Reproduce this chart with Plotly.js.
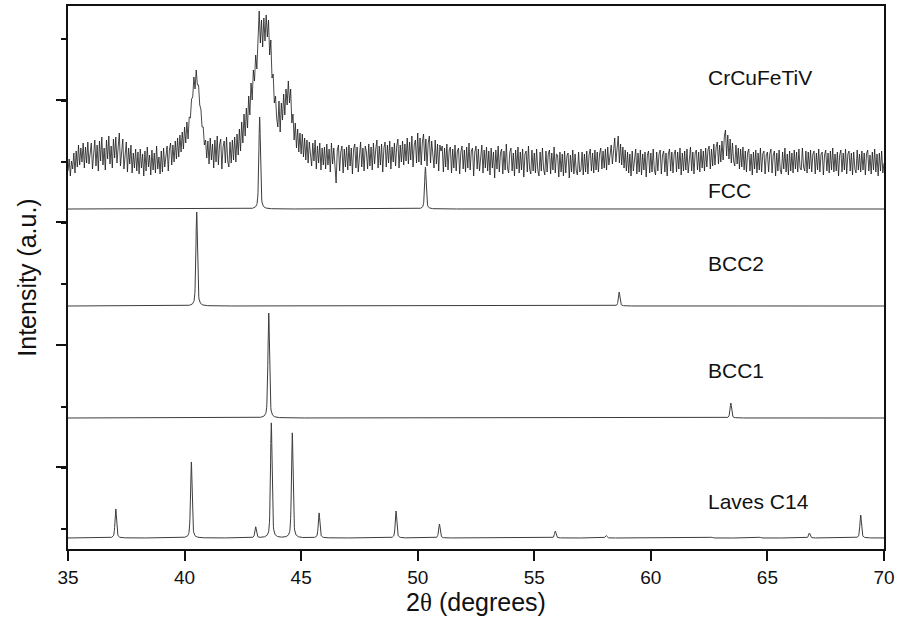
<!DOCTYPE html>
<html>
<head>
<meta charset="utf-8">
<script src="https://cdn.plot.ly/plotly-3.0.1.min.js"></script>
<style>html,body{margin:0;padding:0;background:#fff;}#chart{width:898px;height:623px;}</style>
</head>
<body>
<div id="chart"></div>
<script>
// ---- Measured CrCuFeTiV pattern: 2θ from 35.00 to 70.00 in 0.05° steps (relative intensity, a.u.)
const expStart = 35.0;
const expStep = 0.05;
const expIntensity = [
  -4,8,-9,6,-2,14,-6,16,0,22,2,19,5,24,-1,20,4,25,3,18,
  24,-2,18,27,1,22,-4,26,6,30,2,19,-3,27,8,31,3,21,-1,28,
  9,30,4,23,34,1,20,28,-2,17,25,-5,19,3,22,-6,14,-1,18,-4,
  15,-7,18,-1,13,-9,16,-4,20,0,12,-8,17,-3,14,-6,21,-2,10,-7,
  16,-5,19,0,13,21,-4,17,24,2,22,5,26,8,29,10,32,15,35,18,
  40,24,45,28,50,49,68,70,90,78,97,82,82,62,58,40,40,22,27,9,
  26,3,29,7,23,-1,27,5,31,2,22,28,-2,20,26,4,30,6,0,25,
  4,27,7,30,5,33,12,38,16,45,24,53,31,59,39,71,52,84,67,97,
  86,112,98,128,156,124,147,120,149,126,152,130,147,112,127,89,93,64,71,49,
  40,66,35,64,47,73,52,78,62,86,64,78,44,53,27,44,19,38,15,34,
  13,33,10,29,7,27,4,25,9,1,24,6,27,-2,21,4,24,-3,19,2,
  20,-2,23,2,18,-5,24,3,19,-1,-16,17,22,-4,15,21,-6,18,0,20,
  -3,22,1,19,-7,18,23,-1,20,-5,14,25,0,19,-4,21,15,-2,23,1,
  20,-3,24,3,18,27,-1,21,2,23,-5,19,25,0,22,4,26,-2,20,5,
  24,1,21,28,-1,22,5,26,2,23,6,29,3,25,7,31,0,22,27,4,
  34,5,29,2,25,33,6,28,1,24,31,4,26,8,-1,27,3,23,-4,22,
  16,21,-5,19,0,23,-3,17,20,-6,18,-1,22,-4,16,19,-7,15,21,-2,
  17,-5,20,-1,24,-3,16,19,-9,15,21,-2,18,-4,14,22,-6,17,-1,20,
  -4,16,-8,19,-1,15,-11,17,-2,21,-5,14,18,-7,16,-3,23,-1,-6,15,
  19,-4,14,-9,17,-2,20,-6,15,-3,18,-10,13,16,-5,21,-2,-7,17,-4,
  14,-6,18,-3,-9,15,-4,19,-2,-8,16,-5,13,17,-7,14,-3,20,-6,13,
  12,-10,15,-5,13,-9,16,-6,11,14,-11,12,-5,17,-7,13,-4,-8,15,-5,
  -3,15,-8,13,-5,16,-7,12,18,-4,14,-6,17,-3,15,-5,13,19,-2,16,
  -1,18,-3,20,2,14,22,3,21,29,5,24,31,4,23,2,20,-1,17,-4,
  15,-6,13,-9,16,-4,12,18,-7,14,-5,17,-8,13,-3,15,-10,12,16,-6,
  14,-5,18,-3,-8,15,-4,13,17,-7,12,16,-5,14,-9,13,18,-4,15,-6,
  13,17,-5,15,-2,19,-8,14,-4,16,-3,18,-6,13,20,-4,15,-7,14,17,
  -3,15,-5,18,-1,16,-4,19,0,17,21,-2,18,1,23,2,20,25,3,22,
  5,26,7,30,37,11,32,8,28,4,24,6,1,22,3,19,-2,18,0,20,
  -3,16,-5,14,18,-4,13,-8,15,-2,17,-6,14,-3,19,-5,13,16,-7,12,
  15,-5,13,18,-6,12,16,-9,14,-4,17,-3,-7,15,-2,19,-5,13,-8,16,
  -4,14,-6,17,-2,15,-5,18,-1,-3,19,0,-4,16,-6,15,-2,17,-5,13,
  16,-7,14,-3,18,-5,13,15,-8,12,17,-4,14,-6,16,-3,19,-5,13,-4,
  15,-9,12,17,-5,14,-3,18,-7,13,16,-4,14,-8,15,-2,-6,17,-3,13,
  -5,16,-3,14,-8,13,17,-4,12,-7,15,-3,18,-5,13,-9,14,-4,16,-6,
  4
];

// ---- Reference phase patterns: peak positions (2θ) and peak heights (a.u.)
const fccPos = [43.22, 50.33];
const fccInt = [92, 42];
const bcc2Pos = [40.52, 58.64];
const bcc2Int = [94, 14];
const bcc1Pos = [43.61, 63.43];
const bcc1Int = [105, 15];
const lavesPos = [37.05, 40.29, 43.05, 43.72, 44.62, 45.77, 49.07, 50.93, 55.9, 58.08, 62.6, 64.66, 66.8, 69.0];
const lavesInt = [29, 76, 11, 115, 105, 25, 27, 14, 7, 2.5, 1, 1, 5, 23];

// ---- Labels and stacking offsets
const labels = ["CrCuFeTiV", "FCC", "BCC2", "BCC1", "Laves C14"];
const offsets = [382, 340, 243, 131, 11];
const labelY = [472, 359, 286, 179, 48];
const xTicks = [35, 40, 45, 50, 55, 60, 65, 70];

// build traces
const expX = expIntensity.map((_, i) => +(expStart + i * expStep).toFixed(2));
const expY = expIntensity.map(v => v + offsets[0]);

function profile(pos, inten, offset) {
  const xs = [], ys = [];
  const w = 0.04; // half width (deg)
  for (let i = 0; i <= 3500; i++) {
    const x = 35 + i * 0.01;
    let y = 0;
    for (let k = 0; k < pos.length; k++) {
      const d = (x - pos[k]) / w;
      y += inten[k] * (0.5 / (1 + d * d) + 0.5 * Math.exp(-0.693 * d * d));
    }
    xs.push(+x.toFixed(2));
    ys.push(y + offset);
  }
  return {xs, ys};
}

const phases = [
  [fccPos, fccInt, offsets[1]],
  [bcc2Pos, bcc2Int, offsets[2]],
  [bcc1Pos, bcc1Int, offsets[3]],
  [lavesPos, lavesInt, offsets[4]]
];

const traces = phases.map(p => {
  const pr = profile(p[0], p[1], p[2]);
  return {x: pr.xs, y: pr.ys, type: 'scatter', mode: 'lines',
          line: {color: '#3c3c3c', width: 1}, hoverinfo: 'skip', showlegend: false};
});
traces.push({x: expX, y: expY, type: 'scatter', mode: 'lines',
             line: {color: '#1a1a1a', width: 0.8}, showlegend: false});

const annotations = labels.map((t, i) => ({
  text: t, x: 62.37, y: labelY[i], xref: 'x', yref: 'y',
  xanchor: 'left', yanchor: 'middle', showarrow: false,
  font: {family: 'Liberation Sans, Arial, sans-serif', size: 21, color: '#111'}
}));

const layout = {
  width: 898, height: 623,
  margin: {l: 68, r: 14, t: 6, b: 74},
  paper_bgcolor: '#fff', plot_bgcolor: '#fff',
  font: {family: 'Liberation Sans, Arial, sans-serif', color: '#111'},
  showlegend: false,
  xaxis: {
    range: [35, 70], tickvals: xTicks, ticktext: xTicks.map(String),
    ticks: 'outside', ticklen: 10, tickwidth: 2, tickcolor: '#111',
    showline: true, linewidth: 2, linecolor: '#111', mirror: true,
    showgrid: false, zeroline: false,
    tickfont: {size: 19, family: 'Liberation Sans, Arial, sans-serif', color: '#111'},
    title: {text: '2<span style="font-family:serif">θ</span> (degrees)',
            font: {size: 25, family: 'Liberation Sans, Arial, sans-serif', color: '#111'}, standoff: 6}
  },
  yaxis: {
    range: [0, 543], tick0: 82, dtick: 122.4,
    ticks: 'outside', ticklen: 10, tickwidth: 2, tickcolor: '#111',
    showticklabels: false,
    minor: {tick0: 20, dtick: 61.2, ticks: 'outside', ticklen: 5, tickwidth: 2, tickcolor: '#111', showgrid: false},
    showline: true, linewidth: 2, linecolor: '#111', mirror: true,
    showgrid: false, zeroline: false,
    title: {text: 'Intensity (a.u.)',
            font: {size: 25, family: 'Liberation Sans, Arial, sans-serif', color: '#111'}, standoff: 12}
  },
  annotations: annotations
};

Plotly.newPlot('chart', traces, layout, {displayModeBar: false, staticPlot: true});
</script>
</body>
</html>
